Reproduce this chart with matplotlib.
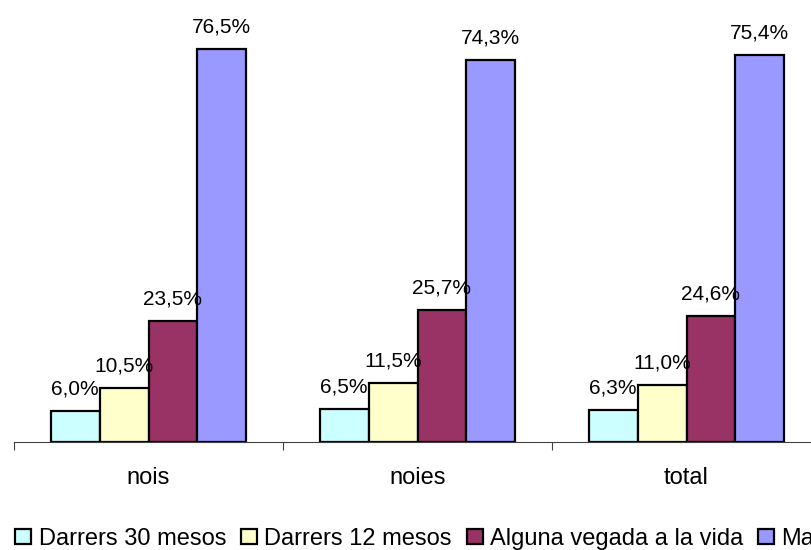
import matplotlib.pyplot as plt
import numpy as np

plt.rcParams["font.family"] = ["Liberation Sans", "DejaVu Sans"]

groups = ["nois", "noies", "total"]
series = ["Darrers 30 mesos", "Darrers 12 mesos", "Alguna vegada a la vida", "Mai"]
values = [
    [6.0, 6.5, 6.3],
    [10.5, 11.5, 11.0],
    [23.5, 25.7, 24.6],
    [76.5, 74.3, 75.4],
]
colors = ["#CCFFFF", "#FFFFCC", "#993366", "#9999FF"]

fig = plt.figure(figsize=(8.11, 5.5), dpi=100)
# axes runs a bit past the right edge, as in the original
ax = fig.add_axes([14 / 811, 108 / 550, 807 / 811, 411 / 550])

x = np.arange(len(groups))
width = 0.182
handles = []
for i, (name, vals, col) in enumerate(zip(series, values, colors)):
    pos = x + (i - 1.5) * width
    bars = ax.bar(pos, vals, width, color=col, edgecolor="black", linewidth=1.6, label=name)
    handles.append(bars)
    for xp, v in zip(pos, vals):
        ax.annotate(f"{v:.1f}%".replace(".", ","), (xp, v), xytext=(0, 9),
                    textcoords="offset points", ha="center", va="bottom", fontsize=15)

ax.set_xlim(-0.5, 2.5)
ax.set_ylim(0, 80)
ax.set_yticks([])
for s in ["left", "right", "top"]:
    ax.spines[s].set_visible(False)
ax.spines["bottom"].set_color("#404040")

ax.set_xticks([-0.5, 0.5, 1.5, 2.5])
ax.set_xticklabels([])
ax.tick_params(axis="x", which="major", length=6, direction="out", color="#404040")
ax.set_xticks(x, minor=True)
ax.set_xticklabels(groups, minor=True, fontsize=17)
ax.tick_params(axis="x", which="minor", length=0, pad=18)

# legend runs off the right edge in the original ("Ma...")
fig.legend(handles=handles, labels=series, loc="center left", bbox_to_anchor=(15 / 811, 1 - 539 / 550),
           ncol=4, frameon=False, fontsize=17, handlelength=0.68, handleheight=0.6,
           handletextpad=0.32, columnspacing=0.62, borderaxespad=0, borderpad=0)

fig.savefig("out.png", dpi=100)
